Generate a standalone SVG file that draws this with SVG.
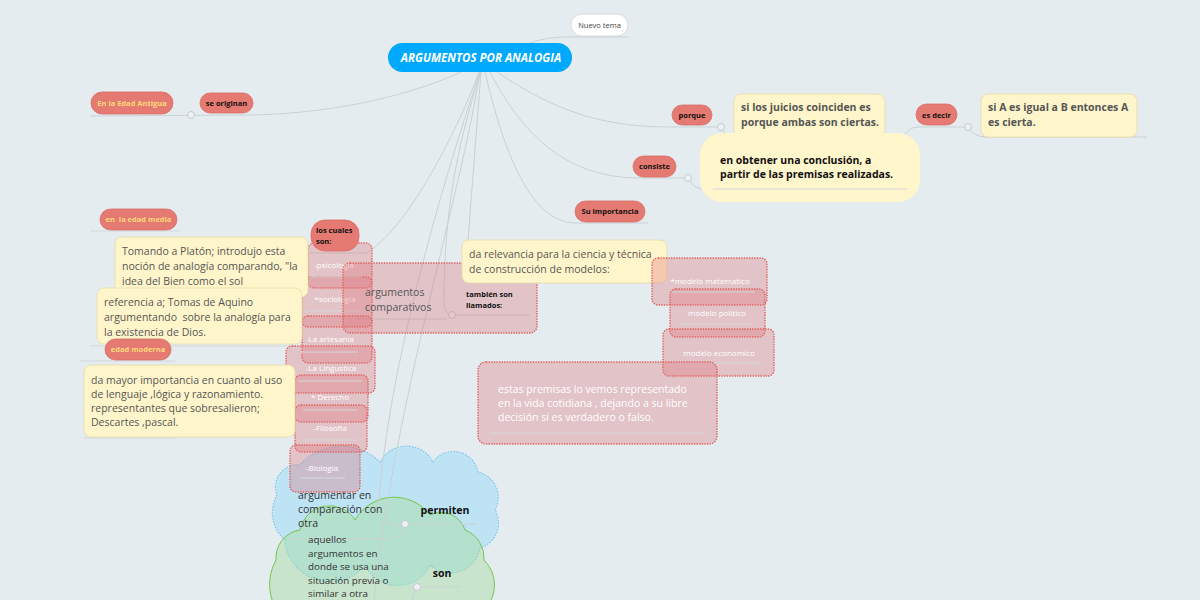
<svg xmlns="http://www.w3.org/2000/svg" width="1200" height="600" viewBox="0 0 1200 600">
<defs>
<style>
.bg{fill:#e4ecf0}
.ln{fill:none;stroke:#c9d1d5;stroke-width:1}
.ul{fill:none;stroke:#d3d9dc;stroke-width:1}
.dot{fill:#edf1f3;stroke:#c3cbcf;stroke-width:1}
.pill{fill:#e57a72;stroke:#d96d66;stroke-width:0.8}
.pt{font-family:"Open Sans","Liberation Sans",sans-serif;font-size:7.5px;font-weight:bold;fill:#111;text-anchor:middle}
.py{font-family:"Open Sans","Liberation Sans",sans-serif;font-size:7.5px;font-weight:bold;fill:#ffd97a;text-anchor:middle}
.yb{fill:#fff5cb;stroke:#e6dba6;stroke-width:0.8}
.yt{font-family:"Open Sans","Liberation Sans",sans-serif;font-size:10.5px;fill:#555}
.ytb{font-family:"Open Sans","Liberation Sans",sans-serif;font-size:10.5px;font-weight:bold;fill:#555}
.rb{fill:rgba(222,118,124,0.34);stroke:#e2605c;stroke-width:1.4;stroke-dasharray:1.4 1.2}
.rt{font-family:"Open Sans","Liberation Sans",sans-serif;font-size:8px;fill:#fff;text-anchor:middle}
.ct{font-family:"Open Sans","Liberation Sans",sans-serif;font-size:10.5px;fill:#333}
.cg{font-family:"Open Sans","Liberation Sans",sans-serif;font-size:9.8px;fill:#333}
.cb{font-family:"Open Sans","Liberation Sans",sans-serif;font-size:10.5px;font-weight:bold;fill:#111;text-anchor:middle}
</style>
</defs>
<rect class="bg" x="0" y="0" width="1200" height="600"/>

<g id="cloud-permiten">
<path d="M285,540 A36 36 0 0 1 277,495 A22 22 0 0 1 300,465 A55 55 0 0 1 380,462 A30 30 0 0 1 433,462 A25 25 0 0 1 478,472 A26 26 0 0 1 495,510 A26 26 0 0 1 480,548 A30 30 0 0 1 430,565 A36 36 0 0 1 365,565 A45 45 0 0 1 285,540 Z" fill="#bee3f5" stroke="#7cc5ee" stroke-width="1.2" stroke-dasharray="1.5 1.5"/>
</g>
<g id="cloud-son">
<path d="M280,615 A50 50 0 0 1 276,560 A28 28 0 0 1 300,530 A30 30 0 0 1 355,520 A45 45 0 0 1 430,515 A25 25 0 0 1 465,530 A30 30 0 0 1 484,560 A35 35 0 0 1 484,610 L484,620 L280,620 Z" fill="rgba(168,220,160,0.45)" stroke="#77c64e" stroke-width="1"/>
</g>

<g id="connectors">
<path class="ln" d="M530,43 C545,38 555,37 571,37 L628,37"/>
<path class="ln" d="M461,72 C400,100 320,114 250,115 L90,116"/>
<path class="ln" d="M497,72 C560,115 610,127 670,127 L718,127"/>
<path class="ln" d="M721,127 Q726,138 736,138 L900,138"/>
<path class="ln" d="M903,138 Q908,127 918,127 L965,127"/>
<path class="ln" d="M968,127 Q974,137 986,137 L1147,137"/>
<path class="ln" d="M490,72 C530,150 580,178 640,178 L685,178"/>
<path class="ln" d="M688,178 Q693,188 702,189"/>
<path class="ln" d="M485,72 C510,180 540,222 575,223 L648,223"/>
<path class="ln" d="M479,72 C450,150 400,235 366,253 L310,253"/>
<path class="ln" d="M481,72 C455,150 444,220 444,300 Q444,315 452,315 L530,315"/>
<path class="ln" d="M357,319 L447,319"/>
<path class="ln" d="M480,72 C440,190 385,380 378,515 Q380,527 405,524 L477,524"/>
<path class="ln" d="M290,539 L392,539 Q402,538 405,524"/>
<path class="ln" d="M480,72 C460,200 395,400 374,600"/>
<path class="ln" d="M481,72 L468,240"/>
<path class="ln" d="M417,587 L460,587 M417,587 L412,600"/>
<path class="ul" d="M90,231 L180,231"/>
<path class="ul" d="M90,346 L295,346"/>
<path class="ul" d="M80,361 L175,361"/>
<path class="ul" d="M83,438 L175,438"/>
<circle class="dot" cx="191" cy="115" r="3.5"/>
<circle class="dot" cx="721" cy="127" r="3.5"/>
<circle class="dot" cx="903" cy="138" r="3.5"/>
<circle class="dot" cx="968" cy="127" r="3.5"/>
<circle class="dot" cx="688" cy="178" r="3.5"/>
<circle class="dot" cx="452" cy="315" r="3.5"/>
<circle class="dot" cx="405" cy="524" r="3.5"/>
<circle class="dot" cx="417" cy="587" r="3.5"/>
</g>

<g id="cloud-texts">
<text class="ct" x="298" y="499">argumentar en</text>
<text class="ct" x="298" y="513">comparación con</text>
<text class="ct" x="298" y="527">otra</text>
<text class="cb" x="445" y="514">permiten</text>
<text class="cg" x="308" y="543">aquellos</text>
<text class="cg" x="308" y="556.5">argumentos en</text>
<text class="cg" x="308" y="570">donde se usa una</text>
<text class="cg" x="308" y="583.5">situación previa o</text>
<text class="cg" x="308" y="597">similar a otra</text>
<text class="cb" x="442" y="577">son</text>
</g>

<g id="nuevo-tema">
<rect x="571" y="14" width="57" height="22" rx="11" fill="#fff" stroke="#d0d4d6" stroke-width="0.8"/>
<text x="599.5" y="28" font-family="Open Sans,Liberation Sans,sans-serif" font-size="7.5" fill="#444" text-anchor="middle">Nuevo tema</text>
</g>
<g id="central">
<rect x="388" y="43" width="184" height="29" rx="14.5" fill="#00a9fb"/>
<text x="481" y="62" font-family="Open Sans,Liberation Sans,sans-serif" font-size="11.5" font-weight="bold" font-style="italic" fill="#fff" text-anchor="middle">ARGUMENTOS POR ANALOGIA</text>
</g>

<g id="edad-antigua"><rect class="pill" x="91" y="92" width="82" height="22" rx="11"/><text class="py" x="132" y="106">En la Edad Antigua</text></g>
<g id="se-originan"><rect class="pill" x="200" y="93" width="53" height="20" rx="10"/><text class="pt" x="226.5" y="106">se originan</text></g>
<g id="porque"><rect class="pill" x="672" y="105" width="40" height="20" rx="10"/><text class="pt" x="692" y="118">porque</text></g>
<g id="juicios"><rect class="yb" x="734" y="94" width="151" height="43" rx="7"/><text class="ytb" x="741" y="111">si los juicios coinciden es</text><text class="ytb" x="741" y="126">porque ambas son ciertas.</text></g>
<g id="es-decir"><rect class="pill" x="916" y="104" width="41" height="21" rx="10.5"/><text class="pt" x="936.5" y="118">es decir</text></g>
<g id="si-a"><rect class="yb" x="981" y="94" width="156" height="43" rx="7"/><text class="ytb" x="988" y="111">si A es igual a B entonces A</text><text class="ytb" x="988" y="126">es cierta.</text></g>
<g id="consiste"><rect class="pill" x="633" y="156" width="43" height="21" rx="10.5"/><text class="pt" x="654.5" y="169">consiste</text></g>
<g id="conclusion"><rect x="700" y="133" width="220" height="69" rx="22" fill="#fff6cc"/><text x="720" y="164" font-family="Open Sans,Liberation Sans,sans-serif" font-size="10.5" font-weight="bold" fill="#111">en obtener una conclusión, a</text><text x="720" y="178" font-family="Open Sans,Liberation Sans,sans-serif" font-size="10.5" font-weight="bold" fill="#111">partir de las premisas realizadas.</text><path class="ul" d="M713,189 L907,189"/></g>
<g id="importancia"><rect class="pill" x="575" y="201" width="70" height="21" rx="10.5"/><text class="pt" x="610" y="214">Su importancia</text></g>

<g id="edad-media"><rect class="pill" x="100" y="209" width="77" height="21" rx="10.5"/><text class="py" x="138.5" y="222" xml:space="preserve">en  la edad media</text></g>

<g id="stack">
<rect class="rb" x="308" y="243" width="64" height="45" rx="6"/>
<rect class="rb" x="302" y="277" width="70" height="50" rx="6"/>
<rect class="rb" x="302" y="316" width="70" height="47" rx="6"/>
<rect class="rb" x="286" y="346" width="89" height="47" rx="6"/>
<rect class="rb" x="295" y="375" width="73" height="47" rx="6"/>
<rect class="rb" x="295" y="405" width="72" height="47" rx="6"/>
<rect class="rb" x="290" y="445" width="70" height="47" rx="6"/>
<text class="rt" x="334" y="268">-psicologia</text><path class="ul" d="M310,277 L362,277"/>
<text class="rt" x="335" y="302">*sociologia</text><path class="ul" d="M305,311 L360,311"/>
<text class="rt" x="330" y="342">-La artesania</text><path class="ul" d="M300,352 L358,352"/>
<text class="rt" x="331" y="371">-La Lingustica</text><path class="ul" d="M298,381 L362,381"/>
<text class="rt" x="330" y="400">* Derecho</text><path class="ul" d="M303,410 L357,410"/>
<text class="rt" x="330" y="431">-Filosofia</text><path class="ul" d="M303,440 L357,440"/>
<text class="rt" x="322" y="471">-Biologia</text><path class="ul" d="M300,478 L345,478"/>
</g>
<g id="cuales"><rect class="pill" x="311" y="220" width="48" height="31" rx="14"/><text x="316" y="233" font-family="Open Sans,Liberation Sans,sans-serif" font-size="7.5" font-weight="bold" fill="#111">los cuales</text><text x="316" y="244" font-family="Open Sans,Liberation Sans,sans-serif" font-size="7.5" font-weight="bold" fill="#111">son:</text></g>

<g id="platon"><rect class="yb" x="115" y="237" width="193" height="60" rx="7"/><text class="yt" x="122" y="255">Tomando a Platón; introdujo esta</text><text class="yt" x="122" y="270">noción de analogía comparando, "la</text><text class="yt" x="122" y="285">idea del Bien como el sol</text></g>
<g id="aquino"><rect class="yb" x="97" y="288" width="205" height="56" rx="7"/><text class="yt" x="104" y="306">referencia a; Tomas de Aquino</text><text class="yt" x="104" y="321" xml:space="preserve">argumentando  sobre la analogía para</text><text class="yt" x="104" y="336">la existencia de Dios.</text></g>
<g id="edad-moderna"><rect class="pill" x="105" y="339" width="66" height="21" rx="10.5"/><text class="py" x="138" y="352">edad moderna</text></g>
<g id="mayor"><rect class="yb" x="84" y="365" width="211" height="72" rx="7"/><text class="yt" x="91" y="384">da mayor importancia en cuanto al uso</text><text class="yt" x="91" y="398">de lenguaje ,lógica y razonamiento.</text><text class="yt" x="91" y="412">representantes que sobresalieron;</text><text class="yt" x="91" y="426">Descartes ,pascal.</text></g>

<g id="comparativos"><rect class="rb" x="343" y="263" width="194" height="70" rx="7"/><text x="365" y="296" font-family="Open Sans,Liberation Sans,sans-serif" font-size="10.5" fill="#555">argumentos</text><text x="365" y="311" font-family="Open Sans,Liberation Sans,sans-serif" font-size="10.5" fill="#555">comparativos</text><text x="466" y="297" font-family="Open Sans,Liberation Sans,sans-serif" font-size="7.5" font-weight="bold" fill="#111">también son</text><text x="466" y="308" font-family="Open Sans,Liberation Sans,sans-serif" font-size="7.5" font-weight="bold" fill="#111">llamados:</text></g>
<g id="relevancia"><rect class="yb" x="462" y="240" width="205" height="43" rx="7"/><text class="yt" x="469" y="258">da relevancia para la ciencia y técnica</text><text class="yt" x="469" y="273">de construcción de modelos:</text></g>

<g id="modelos">
<rect class="rb" x="652" y="258" width="115" height="47" rx="6"/>
<rect class="rb" x="670" y="289" width="95" height="48" rx="6"/>
<rect class="rb" x="663" y="329" width="111" height="47" rx="6"/>
<text class="rt" x="710" y="284">*modelo matematico</text><path class="ul" d="M672,292 L755,292"/>
<text class="rt" x="717" y="316">modelo politico</text><path class="ul" d="M680,324 L752,324"/>
<text class="rt" x="719" y="356">modelo economico</text><path class="ul" d="M677,363 L760,363"/>
</g>
<g id="premisas"><rect class="rb" x="478" y="362" width="239" height="82" rx="8"/><text x="498" y="393" font-family="Open Sans,Liberation Sans,sans-serif" font-size="10.5" fill="#fff">estas premisas lo vemos representado</text><text x="498" y="407" font-family="Open Sans,Liberation Sans,sans-serif" font-size="10.5" fill="#fff">en la vida cotidiana , dejando a su libre</text><text x="498" y="421" font-family="Open Sans,Liberation Sans,sans-serif" font-size="10.5" fill="#fff">decisión si es verdadero o falso.</text><path class="ul" d="M490,433 L705,433"/></g>
</svg>
